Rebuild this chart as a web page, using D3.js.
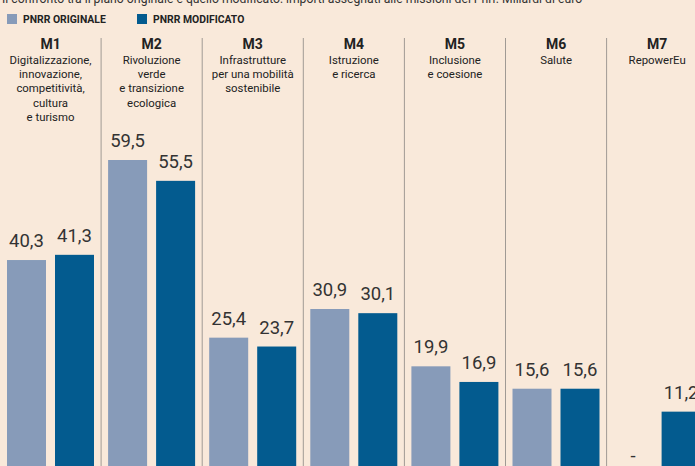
<!DOCTYPE html>
<html><head><meta charset="utf-8">
<script src="https://cdn.jsdelivr.net/npm/d3@7"></script>
<style>
html,body{margin:0;padding:0;background:#f9e9da;}
svg{display:block;font-family:Roboto,"Open Sans",sans-serif;}
</style></head>
<body><svg id="c" width="695" height="466"></svg>
<script>
const missions = ["M1","M2","M3","M4","M5","M6","M7"];
const descriptions = [
  ["Digitalizzazione,","innovazione,","competitività,","cultura","e turismo"],
  ["Rivoluzione","verde","e transizione","ecologica"],
  ["Infrastrutture","per una mobilità","sostenibile"],
  ["Istruzione","e ricerca"],
  ["Inclusione","e coesione"],
  ["Salute"],
  ["RepowerEu"]
];
const seriesNames = ["PNRR ORIGINALE","PNRR MODIFICATO"];
const original = [40.3, 59.5, 25.4, 30.9, 19.9, 15.6, null];
const modified = [41.3, 55.5, 23.7, 30.1, 16.9, 15.6, 11.2];
const colors = ["#879bb9","#035b8f"];
const subtitle = "Il confronto tra il piano originale e quello modificato: importi assegnati alle missioni del Pnrr. Miliardi di euro";

const svg = d3.select("#c");
const groupStep = 101.1;
const x0 = d3.scaleBand().domain(missions).range([0, groupStep*missions.length]).padding(0);
const x1 = d3.scaleBand().domain(seriesNames).range([7, 94]).paddingInner(0.1875).paddingOuter(0);
const y = d3.scaleLinear().domain([0, 59.5]).range([470, 160]);

// subtitle (cut off at top, as in the original)
svg.append("text").attr("x", 2).attr("y", 3).attr("font-size", 12.2).attr("fill","#333").text(subtitle);

// legend
const leg = svg.append("g");
const legX = [7, 137];
seriesNames.forEach((s,i)=>{
  leg.append("rect").attr("x", legX[i]).attr("y", 14).attr("width", 10).attr("height", 10).attr("fill", colors[i]);
  leg.append("text").attr("x", legX[i]+16).attr("y", 23).attr("font-size", 10.4).attr("font-weight", 700)
    .attr("fill", "#222").text(s);
});

// separators
missions.slice(1).forEach(m=>{
  svg.append("line").attr("x1", x0(m)).attr("x2", x0(m)).attr("y1", 38).attr("y2", 466)
    .attr("stroke", "#a09a94").attr("stroke-width", 1);
});

// headers
missions.forEach((m,i)=>{
  const cx = x0(m) + x0.bandwidth()/2;
  svg.append("text").attr("x", cx).attr("y", 49).attr("text-anchor","middle")
    .attr("font-size", 14).attr("font-weight", 700).attr("fill","#222").text(m);
  descriptions[i].forEach((line,j)=>{
    svg.append("text").attr("x", cx).attr("y", 64 + j*14.2).attr("text-anchor","middle")
      .attr("font-size", 11.4).attr("fill","#222").text(line);
  });
});

// bars
const data = missions.map((m,i)=>({m, vals:[original[i], modified[i]]}));
const fmt = v => v == null ? "-" : d3.format(".1f")(v).replace(".", ",");
const g = svg.selectAll("g.grp").data(data).join("g").attr("class","grp")
  .attr("transform", d=>`translate(${x0(d.m)},0)`);
g.selectAll("rect").data(d=>d.vals.map((v,k)=>({v,k}))).join("rect")
  .attr("x", d=>x1(seriesNames[d.k])).attr("width", x1.bandwidth())
  .attr("y", d=>d.v==null?y(0):y(d.v)).attr("height", d=>d.v==null?0:y(0)-y(d.v))
  .attr("fill", d=>colors[d.k]);
g.selectAll("text.val").data(d=>d.vals.map((v,k)=>({v,k}))).join("text").attr("class","val")
  .attr("x", d=>x1(seriesNames[d.k]) + x1.bandwidth()/2)
  .attr("y", d=>d.v==null? y(0)-8 : y(d.v)-13)
  .attr("text-anchor","middle").attr("font-size", 18.5).attr("fill","#333")
  .text(d=>fmt(d.v));
</script></body></html>
